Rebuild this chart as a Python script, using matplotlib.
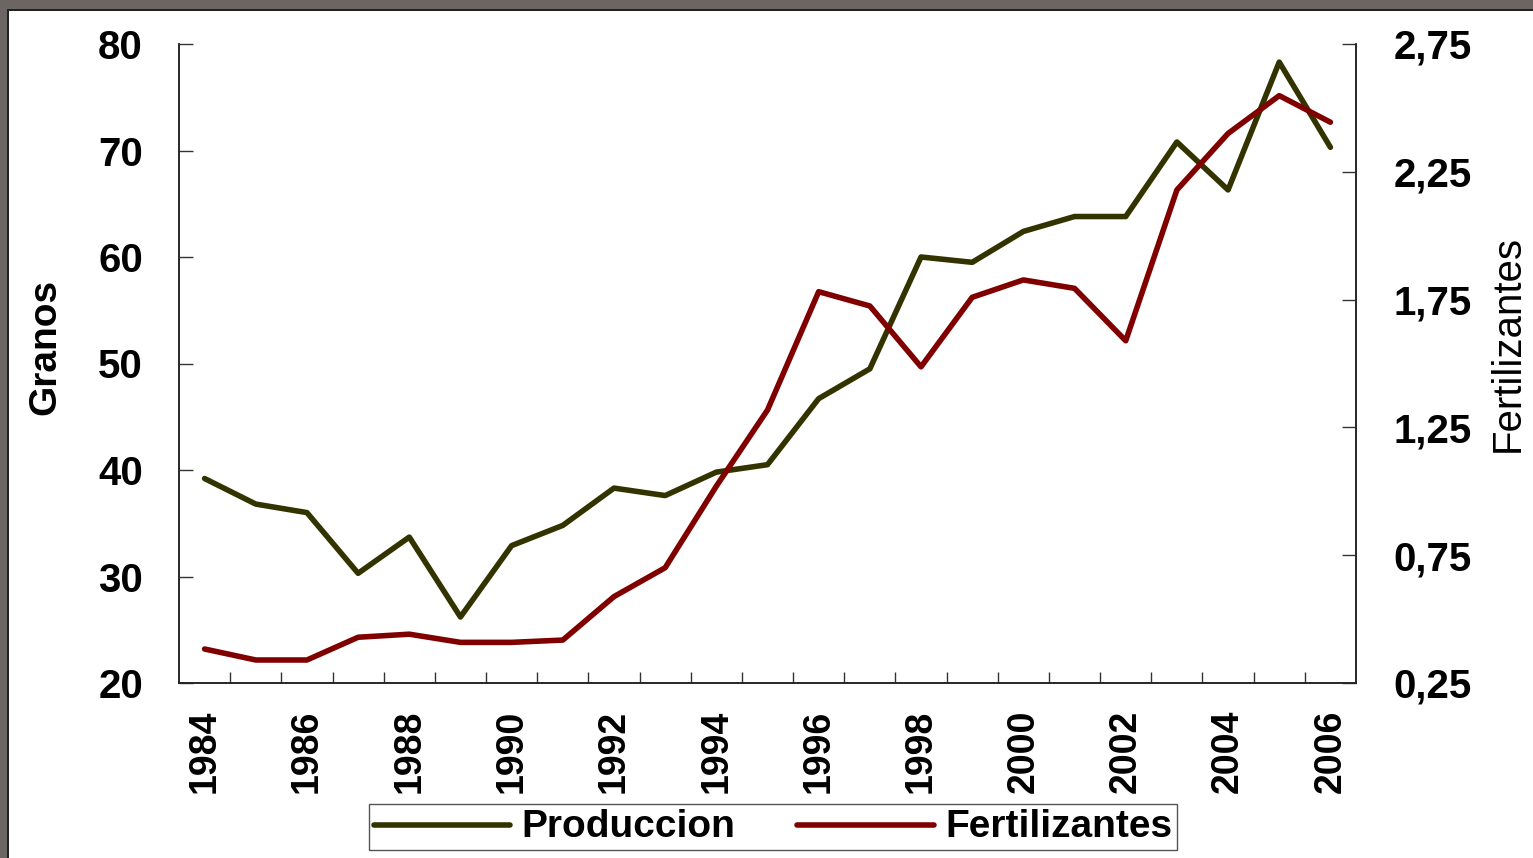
import matplotlib
matplotlib.use("Agg")
import matplotlib.pyplot as plt
import numpy as np
from matplotlib.patches import Rectangle
from matplotlib.ticker import FixedLocator

years = list(range(1984, 2007))
produccion = [39.2, 36.8, 36.0, 30.3, 33.7, 26.2, 32.9, 34.8, 38.3, 37.6, 39.8,
              40.5, 46.7, 49.5, 60.0, 59.5, 62.4, 63.8, 63.8, 70.8, 66.3, 78.3, 70.3]
fertilizantes = [0.383, 0.34, 0.34, 0.429, 0.441, 0.409, 0.409, 0.418, 0.588, 0.701, 1.02,
                 1.318, 1.781, 1.725, 1.487, 1.759, 1.827, 1.794, 1.589, 2.179, 2.40, 2.548, 2.444]
left_ticks = [20, 30, 40, 50, 60, 70, 80]
right_ticks = [0.25, 0.75, 1.25, 1.75, 2.25, 2.75]
right_labels = ["0,25", "0,75", "1,25", "1,75", "2,25", "2,75"]
label_years = [str(y) for y in years[::2]]

plt.rcParams['font.family'] = ['Liberation Sans', 'DejaVu Sans']

W, H = 1533, 858
fig = plt.figure(figsize=(W / 100, H / 100), dpi=100)
fig.patch.set_facecolor('white')

# gray frame on top and left
fig.patches.append(Rectangle((0, 1 - 9 / H), 1, 9 / H, transform=fig.transFigure,
                             facecolor='#6b6664', edgecolor='none', zorder=0))
fig.patches.append(Rectangle((0, 0), 7 / W, 1, transform=fig.transFigure,
                             facecolor='#6b6664', edgecolor='none', zorder=0))
fig.patches.append(Rectangle((7 / W, 0), 1.5 / W, 1 - 9 / H, transform=fig.transFigure,
                             facecolor='#222222', edgecolor='none', zorder=0))
fig.patches.append(Rectangle((7 / W, 1 - 10.5 / H), 1, 1.5 / H, transform=fig.transFigure,
                             facecolor='#222222', edgecolor='none', zorder=0))

x0, x1 = 179 / W, 1356 / W
y0, y1 = 1 - 683 / H, 1 - 44 / H
ax = fig.add_axes([x0, y0, x1 - x0, y1 - y0])
ax2 = ax.twinx()

x = np.arange(len(years))
l1, = ax.plot(x, produccion, color='#333300', lw=4, solid_capstyle='round',
              solid_joinstyle='round', label='Produccion', zorder=3)
l2, = ax2.plot(x, fertilizantes, color='#800000', lw=4, solid_capstyle='round',
               solid_joinstyle='round', label='Fertilizantes', zorder=3)

ax.set_xlim(-0.5, len(years) - 0.5)
ax.set_ylim(20, 80)
ax2.set_ylim(0.25, 2.75)

ax.set_yticks(left_ticks)
ax.set_yticklabels([str(v) for v in left_ticks], fontsize=29, fontweight='bold')
ax2.set_yticks(right_ticks)
ax2.set_yticklabels(right_labels, fontsize=29, fontweight='bold')

ax.set_xticks(x[::2])
ax.set_xticklabels(label_years, rotation=90, fontsize=27, fontweight='bold')
ax.xaxis.set_minor_locator(FixedLocator(np.arange(0.5, len(years) - 0.5, 1.0)))

ax.tick_params(axis='x', which='major', length=0, pad=19)
ax.tick_params(axis='x', which='minor', direction='in', length=8, width=1, color='#333333')
ax.tick_params(axis='y', direction='in', length=10, width=1, color='#333333', pad=26)
ax2.tick_params(axis='y', direction='in', length=10, width=1, color='#333333', pad=27)

for a in (ax, ax2):
    a.spines['top'].set_visible(False)
    for s in ('left', 'right', 'bottom'):
        a.spines[s].set_linewidth(1.1)
        a.spines[s].set_color('#222222')

ax.set_ylabel('Granos', fontsize=28, fontweight='bold', va='center', ha='center')
ax.yaxis.set_label_coords((45 - 179) / 1177, (683 - 347) / 639)
ax2.set_ylabel('Fertilizantes', fontsize=29, va='center', ha='center')
ax2.yaxis.set_label_coords((1508 - 179) / 1177, (683 - 343) / 639)

leg = fig.legend([l1, l2], ['Produccion', 'Fertilizantes'], ncol=2, loc='center',
                 bbox_to_anchor=(773 / W, 1 - 827 / H),
                 prop={'size': 28, 'weight': 'bold'}, frameon=True, fancybox=False,
                 framealpha=1, edgecolor='#555555', handlelength=3.5, handletextpad=0.3,
                 columnspacing=1.6, borderpad=0.12, borderaxespad=0, handleheight=0.5)
leg.get_frame().set_linewidth(1.0)

fig.savefig('out.png', dpi=100, facecolor='white')
